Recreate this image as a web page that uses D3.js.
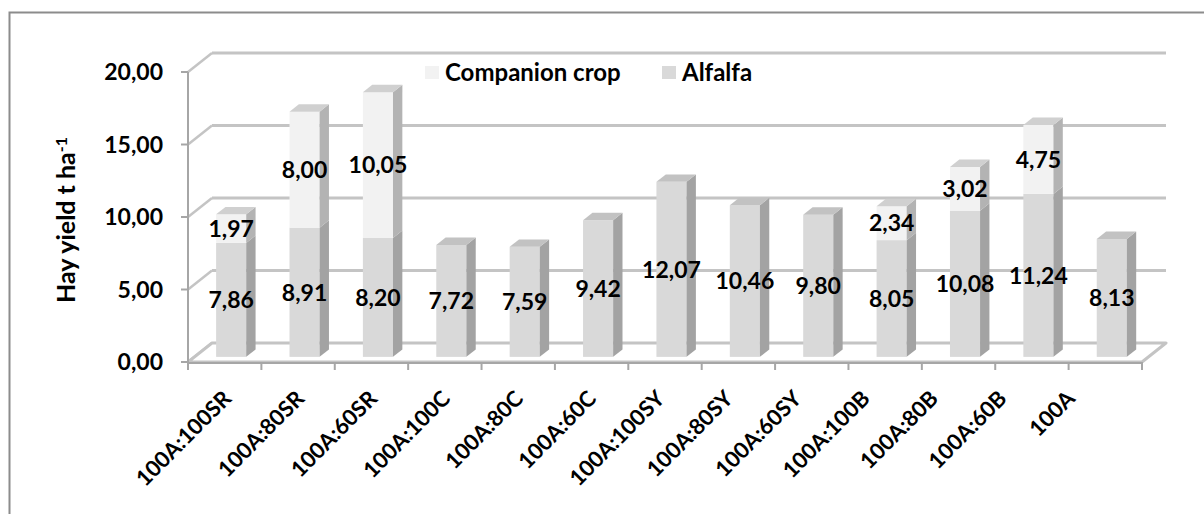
<!DOCTYPE html>
<html>
<head>
<meta charset="utf-8">
<script src="https://cdn.jsdelivr.net/npm/d3@7"></script>
<style>
  html, body { margin: 0; padding: 0; background: #fff; }
  svg { display: block; font-family: Lato, "Open Sans", sans-serif; font-weight: 700; }
</style>
</head>
<body>
<svg id="chart" width="1204" height="514"></svg>
<script>
// Hay yield by treatment (t/ha), stacked: alfalfa + companion crop
const categories = ["100A:100SR", "100A:80SR", "100A:60SR", "100A:100C", "100A:80C", "100A:60C",
  "100A:100SY", "100A:80SY", "100A:60SY", "100A:100B", "100A:80B", "100A:60B", "100A"];
const alfalfa   = [7.86, 8.91, 8.20, 7.72, 7.59, 9.42, 12.07, 10.46, 9.80, 8.05, 10.08, 11.24, 8.13];
const companion = [1.97, 8.00, 10.05, 0, 0, 0, 0, 0, 0, 2.34, 3.02, 4.75, 0];
const yTicks = [0, 5, 10, 15, 20];
const seriesNames = ["Companion crop", "Alfalfa"];

const svg = d3.select("#chart");
const locale = d3.formatLocale({ decimal: ",", thousands: ".", grouping: [3], currency: ["", ""] });
const fmt = locale.format(".2f");

// front plane of the 3D plot area and the depth offset to the back wall
const pL = 188, pR = 1142, pB = 362, pT = 72;
const DX = 24, DY = -19;
const f0 = 0.27, f1 = 0.66;           // bar depth span (fraction of floor depth)

const x = d3.scaleBand().domain(categories).range([pL, pR])
  .paddingInner(0.59).paddingOuter(0.295);
const y = d3.scaleLinear().domain([0, 20]).range([pB, pT]);
const step = x.step();

const colors = {
  comp:  { front: "#f2f2f2", side: "#b3b3b3", top: "#d0d0d0" },
  alf:   { front: "#d9d9d9", side: "#a3a3a3", top: "#c2c2c2" }
};

// outer chart frame
svg.append("rect").attr("x", 9.5).attr("y", 12.5).attr("width", 1210).attr("height", 520)
  .attr("fill", "none").attr("stroke", "#8c8c8c").attr("stroke-width", 2);

// back wall gridlines and side-wall diagonals
const grid = svg.append("g").attr("stroke", "#c4c4c4").attr("stroke-width", 3).attr("fill", "none");
yTicks.forEach(v => {
  if (v > 0) {
    grid.append("line").attr("x1", pL + DX).attr("x2", pR + DX)
      .attr("y1", y(v) + DY).attr("y2", y(v) + DY);
  }
  grid.append("line").attr("x1", pL).attr("y1", y(v))
    .attr("x2", pL + DX).attr("y2", y(v) + DY).attr("stroke-width", 2.5);
});

// floor
svg.append("path")
  .attr("d", `M${pL},${pB}L${pR},${pB}L${pR + DX},${pB + DY}L${pL + DX},${pB + DY}Z`)
  .attr("fill", "#ffffff").attr("stroke", "#c4c4c4").attr("stroke-width", 3).attr("stroke-linejoin", "round");

// stacked 3D bars
const stacks = categories.map((c, i) => {
  const segs = [{ key: "alf", v0: 0, v1: alfalfa[i], val: alfalfa[i] }];
  if (companion[i] > 0) segs.push({ key: "comp", v0: alfalfa[i], v1: alfalfa[i] + companion[i], val: companion[i] });
  return { c, segs };
});

const ddx = DX * (f1 - f0), ddy = DY * (f1 - f0);
const bars = svg.append("g");
stacks.forEach(s => {
  const xl = x(s.c) + DX * f0, xr = xl + x.bandwidth();
  s.segs.forEach((sg, j) => {
    const yb = y(sg.v0) + DY * f0, yt = y(sg.v1) + DY * f0;
    const col = colors[sg.key];
    bars.append("rect").attr("x", xl).attr("y", yt).attr("width", xr - xl).attr("height", yb - yt)
      .attr("fill", col.front);
    bars.append("path")
      .attr("d", `M${xr},${yb}L${xr},${yt}L${xr + ddx},${yt + ddy}L${xr + ddx},${yb + ddy}Z`)
      .attr("fill", col.side);
    if (j === s.segs.length - 1) {
      bars.append("path")
        .attr("d", `M${xl},${yt}L${xr},${yt}L${xr + ddx},${yt + ddy}L${xl + ddx},${yt + ddy}Z`)
        .attr("fill", col.top);
    }
  });
});

// value labels centred on each segment
const labels = svg.append("g").attr("font-size", 23).attr("fill", "#000").attr("text-anchor", "middle");
stacks.forEach(s => {
  const cx = x(s.c) + DX * f0 + x.bandwidth() / 2;
  s.segs.forEach(sg => {
    const cy = (y(sg.v0) + y(sg.v1)) / 2 + DY * f0;
    labels.append("text").attr("x", cx).attr("y", cy).attr("dy", "0.36em").text(fmt(sg.val));
  });
});

// value axis
const yAxis = svg.append("g");
yAxis.append("line").attr("x1", pL).attr("x2", pL).attr("y1", pT).attr("y2", pB)
  .attr("stroke", "#a6a6a6").attr("stroke-width", 2);
yTicks.forEach(v => {
  yAxis.append("line").attr("x1", pL - 7).attr("x2", pL).attr("y1", y(v)).attr("y2", y(v))
    .attr("stroke", "#a6a6a6").attr("stroke-width", 2);
  yAxis.append("text").attr("x", 163).attr("y", y(v)).attr("dy", "0.36em")
    .attr("text-anchor", "end").attr("font-size", 23).text(fmt(v));
});

// category axis
const xAxis = svg.append("g");
xAxis.append("line").attr("x1", pL).attr("x2", pR).attr("y1", pB + 1).attr("y2", pB + 1)
  .attr("stroke", "#a6a6a6").attr("stroke-width", 2);
d3.range(categories.length + 1).forEach(i => {
  const tx = pL + i * step;
  xAxis.append("line").attr("x1", tx).attr("x2", tx).attr("y1", pB).attr("y2", pB + 8)
    .attr("stroke", "#a6a6a6").attr("stroke-width", 2);
});
// rotated labels drift left toward the right end of the axis
const labelShift = d3.scaleLinear().domain([0, 5, 12]).range([8, 6, -29]);
categories.forEach((c, i) => {
  const cx = x(c) + x.bandwidth() / 2;
  xAxis.append("text")
    .attr("transform", `translate(${cx + labelShift(i)},${pB + 38}) rotate(-45)`)
    .attr("text-anchor", "end").attr("font-size", 22).text(c);
});

// axis title
const title = svg.append("text")
  .attr("transform", `translate(75,220) rotate(-90)`)
  .attr("text-anchor", "middle").attr("font-size", 25);
title.append("tspan").text("Hay yield  t ha");
title.append("tspan").attr("dy", "-0.5em").attr("font-size", 16).text("-1");

// legend
const legend = svg.append("g").attr("font-size", 24);
const legendItems = [
  { name: seriesNames[0], color: colors.comp.front, x: 425 },
  { name: seriesNames[1], color: colors.alf.front, x: 662 }
];
legendItems.forEach(d => {
  legend.append("rect").attr("x", d.x).attr("y", 66).attr("width", 14).attr("height", 13).attr("fill", d.color);
  legend.append("text").attr("x", d.x + 20).attr("y", 81).text(d.name);
});
</script>
</body>
</html>
